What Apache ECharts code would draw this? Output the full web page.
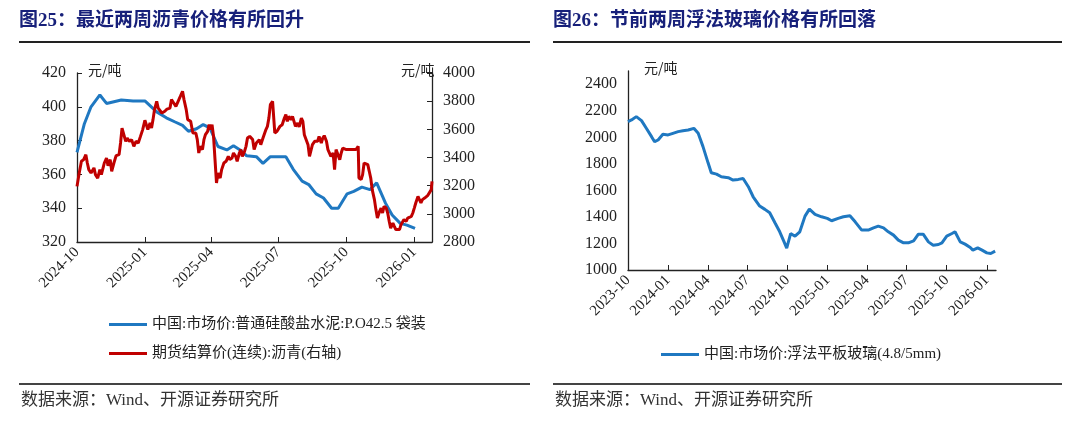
<!DOCTYPE html>
<html>
<head>
<meta charset="utf-8">
<script src="https://cdn.jsdelivr.net/npm/echarts@6/dist/echarts.min.js"></script>
<style>
  html, body { margin: 0; padding: 0; background: #fff; }
  #chart { width: 1080px; height: 427px; }
</style>
</head>
<body>
<div id="chart"></div>
<script>
// ---- data ----
const cementName = '中国:市场价:普通硅酸盐水泥:P.O42.5 袋装'
const asphaltName = '期货结算价(连续):沥青(右轴)'
const glassName = '中国:市场价:浮法平板玻璃(4.8/5mm)'

// left chart, left axis (元/吨)
const cementDates = [
  '2024-10-01', '2024-10-11', '2024-10-20', '2024-11-01', '2024-11-10', '2024-11-30', '2024-12-16',
  '2025-01-01', '2025-01-17', '2025-01-30', '2025-02-11', '2025-02-21', '2025-03-01', '2025-03-12',
  '2025-03-21', '2025-03-30', '2025-04-10', '2025-04-22', '2025-05-01', '2025-05-10', '2025-05-19',
  '2025-06-01', '2025-06-10', '2025-06-20', '2025-07-01', '2025-07-11', '2025-07-21', '2025-08-02',
  '2025-08-11', '2025-08-21', '2025-08-31', '2025-09-11', '2025-09-20', '2025-10-02', '2025-10-11',
  '2025-10-22', '2025-11-02', '2025-11-11', '2025-11-23', '2025-12-02', '2025-12-13', '2025-12-22',
  '2026-01-02'
]
const cementValues = [
  373, 390, 400, 407, 402, 404, 403.5,
  403.5, 397, 393.5, 391, 389, 385.5, 387,
  389.5, 387.5, 376.5, 374.5, 377, 374.5, 371,
  370.5, 366.5, 370.5, 370.5, 370.5, 363, 356,
  354, 348.5, 346, 340, 340, 348.5, 350,
  352.5, 351, 355, 343, 336, 331, 330, 328
]

// left chart, right axis (元/吨)
const asphaltDates = [
  '2024-10-01', '2024-10-04', '2024-10-07', '2024-10-10', '2024-10-13', '2024-10-15', '2024-10-17',
  '2024-10-20', '2024-10-24', '2024-10-26', '2024-10-29', '2024-11-01', '2024-11-03', '2024-11-07',
  '2024-11-10', '2024-11-12', '2024-11-15', '2024-11-17', '2024-11-20', '2024-11-23', '2024-11-27',
  '2024-11-29', '2024-12-01', '2024-12-03', '2024-12-06', '2024-12-08', '2024-12-11', '2024-12-14',
  '2024-12-17', '2024-12-20', '2024-12-23', '2024-12-26', '2024-12-29', '2025-01-01', '2025-01-03',
  '2025-01-05', '2025-01-08', '2025-01-10', '2025-01-12', '2025-01-14', '2025-01-17', '2025-01-19',
  '2025-01-21', '2025-01-24', '2025-01-28', '2025-01-31', '2025-02-04', '2025-02-06', '2025-02-09',
  '2025-02-12', '2025-02-15', '2025-02-18', '2025-02-21', '2025-02-23', '2025-02-26', '2025-02-28',
  '2025-03-02', '2025-03-04', '2025-03-07', '2025-03-09', '2025-03-11', '2025-03-13', '2025-03-15',
  '2025-03-17', '2025-03-20', '2025-03-22', '2025-03-24', '2025-03-27', '2025-03-29', '2025-03-31',
  '2025-04-02', '2025-04-04', '2025-04-06', '2025-04-08', '2025-04-10', '2025-04-13', '2025-04-15',
  '2025-04-18', '2025-04-21', '2025-04-24', '2025-04-26', '2025-04-29', '2025-05-01', '2025-05-04',
  '2025-05-06', '2025-05-09', '2025-05-11', '2025-05-13', '2025-05-16', '2025-05-18', '2025-05-20',
  '2025-05-23', '2025-05-25', '2025-05-27', '2025-05-29', '2025-06-01', '2025-06-03', '2025-06-05',
  '2025-06-07', '2025-06-10', '2025-06-12', '2025-06-14', '2025-06-16', '2025-06-18', '2025-06-20',
  '2025-06-23', '2025-06-24', '2025-06-26', '2025-06-29', '2025-07-01', '2025-07-03', '2025-07-06',
  '2025-07-09', '2025-07-11', '2025-07-13', '2025-07-15', '2025-07-18', '2025-07-20', '2025-07-22',
  '2025-07-24', '2025-07-27', '2025-07-29', '2025-08-01', '2025-08-03', '2025-08-05', '2025-08-07',
  '2025-08-10', '2025-08-12', '2025-08-14', '2025-08-16', '2025-08-19', '2025-08-21', '2025-08-23',
  '2025-08-25', '2025-08-28', '2025-08-30', '2025-09-01', '2025-09-04', '2025-09-06', '2025-09-08',
  '2025-09-10', '2025-09-13', '2025-09-15', '2025-09-17', '2025-09-19', '2025-09-22', '2025-09-24',
  '2025-09-26', '2025-09-28', '2025-10-01', '2025-10-03', '2025-10-05', '2025-10-07', '2025-10-10',
  '2025-10-12', '2025-10-14', '2025-10-17', '2025-10-18', '2025-10-21', '2025-10-23', '2025-10-25',
  '2025-10-27', '2025-10-30', '2025-11-01', '2025-11-03', '2025-11-05', '2025-11-08', '2025-11-10',
  '2025-11-12', '2025-11-15', '2025-11-17', '2025-11-19', '2025-11-21', '2025-11-24', '2025-11-26',
  '2025-11-28', '2025-11-30', '2025-12-03', '2025-12-05', '2025-12-07', '2025-12-09', '2025-12-12',
  '2025-12-14', '2025-12-16', '2025-12-18', '2025-12-21', '2025-12-23', '2025-12-25', '2025-12-28',
  '2025-12-30', '2026-01-01', '2026-01-03', '2026-01-06', '2026-01-08', '2026-01-10', '2026-01-12',
  '2026-01-15', '2026-01-17', '2026-01-19', '2026-01-21', '2026-01-24', '2026-01-25'
]
const asphaltValues = [
  3195, 3290, 3373, 3385, 3420, 3361, 3314,
  3290, 3326, 3278, 3254, 3314, 3278, 3361,
  3396, 3342, 3385, 3302, 3361, 3413, 3420,
  3503, 3609, 3598, 3515, 3538, 3515, 3527,
  3479, 3515, 3503, 3550, 3598, 3664, 3657,
  3598, 3645, 3609, 3669, 3740, 3799, 3751,
  3740, 3716, 3728, 3744, 3751, 3811, 3787,
  3763, 3799, 3834, 3870, 3811, 3740, 3669,
  3680, 3657, 3574, 3562, 3574, 3527, 3432,
  3479, 3456, 3527, 3562, 3586, 3633, 3598,
  3633, 3550, 3385, 3219, 3290, 3254, 3314,
  3361, 3373, 3408, 3385, 3396, 3432, 3408,
  3373, 3432, 3456, 3408, 3444, 3479, 3538,
  3550, 3538, 3527, 3456, 3503, 3515, 3527,
  3491, 3538, 3527, 3598, 3621, 3680, 3775,
  3799, 3787, 3574, 3586, 3574, 3621, 3633,
  3680, 3704, 3657, 3692, 3669, 3692, 3657,
  3621, 3645, 3617, 3680, 3657, 3562, 3550,
  3491, 3408, 3408, 3491, 3515, 3527, 3515,
  3550, 3503, 3538, 3555, 3515, 3456, 3444,
  3408, 3432, 3314, 3456, 3444, 3385, 3432,
  3467, 3467, 3456, 3467, 3456, 3460, 3456,
  3467, 3456, 3479, 3254, 3243, 3278, 3361,
  3373, 3349, 3302, 3254, 3172, 3101, 3030,
  2970, 3018, 3041, 3006, 3053, 3041, 3006,
  2947, 2899, 2935, 2911, 2888, 2899, 2888,
  2923, 2935, 2959, 2947, 2970, 2982, 2982,
  3006, 3041, 3077, 3124, 3112, 3077, 3101,
  3112, 3124, 3129, 3136, 3172, 3231
]

// right chart (元/吨)
const glassDates = [
  '2023-10-01', '2023-10-09', '2023-10-20', '2023-11-01', '2023-11-12', '2023-11-24', '2023-12-01',
  '2023-12-09', '2023-12-20', '2024-01-01', '2024-01-12', '2024-01-24', '2024-02-04', '2024-02-16',
  '2024-02-29', '2024-03-10', '2024-03-21', '2024-04-02', '2024-04-09', '2024-04-21', '2024-05-02',
  '2024-05-18', '2024-05-29', '2024-06-10', '2024-06-21', '2024-07-03', '2024-07-14', '2024-07-29',
  '2024-08-10', '2024-08-21', '2024-09-02', '2024-09-13', '2024-09-23', '2024-09-29', '2024-10-08',
  '2024-10-18', '2024-10-29', '2024-11-10', '2024-11-20', '2024-12-03', '2024-12-18', '2024-12-31',
  '2025-01-10', '2025-01-25', '2025-02-06', '2025-02-21', '2025-03-05', '2025-03-20', '2025-04-04',
  '2025-04-16', '2025-04-27', '2025-05-09', '2025-05-20', '2025-06-01', '2025-06-12', '2025-06-24',
  '2025-07-05', '2025-07-17', '2025-07-28', '2025-08-08', '2025-08-20', '2025-08-31', '2025-09-12',
  '2025-09-20', '2025-10-01', '2025-10-13', '2025-10-20', '2025-11-01', '2025-11-12', '2025-11-24',
  '2025-11-30', '2025-12-11', '2025-12-21', '2026-01-01', '2026-01-10', '2026-01-20'
]
const glassValues = [
  2118, 2131, 2156, 2126, 2068, 2005, 1967,
  1980, 2023, 2018, 2030, 2043, 2050, 2055,
  2068, 2030, 1930, 1804, 1733, 1723, 1703,
  1696, 1678, 1683, 1690, 1628, 1552, 1482,
  1457, 1431, 1356, 1288, 1212, 1165, 1275,
  1255, 1288, 1406, 1459, 1419, 1401, 1389,
  1371, 1389, 1401, 1409, 1363, 1301, 1301,
  1318, 1331, 1318, 1288, 1263, 1225, 1205,
  1205, 1220, 1270, 1270, 1212, 1187, 1192,
  1205, 1255, 1275, 1288, 1212, 1195, 1170,
  1150, 1167, 1150, 1129, 1124, 1142
]

// tick labels
const leftTicks = ['2024-10', '2025-01', '2025-04', '2025-07', '2025-10', '2026-01']
const rightTicks = ['2023-10', '2024-01', '2024-04', '2024-07', '2024-10', '2025-01', '2025-04', '2025-07', '2025-10', '2026-01']

const SERIF = "'Liberation Serif', 'Times New Roman', 'Noto Sans CJK SC', serif"
const BLUE = '#1f78c1'
const RED = '#c00000'
const AXIS = '#222'

// dates -> local timestamps, the x axes are plain value axes over time
function ts(s) {
  const p = s.split('-')
  return new Date(Number(p[0]), Number(p[1]) - 1, Number(p[2] || 1)).getTime()
}
function ym(v) {
  const d = new Date(v)
  const m = d.getMonth() + 1
  return d.getFullYear() + '-' + (m < 10 ? '0' + m : m)
}
function pairs(dates, vals) {
  return dates.map((d, i) => [ts(d), vals[i]])
}

function xAxisOf(gridIndex, min, max, ticks) {
  const vals = ticks.map(t => ts(t))
  return {
    type: 'value',
    gridIndex: gridIndex,
    min: ts(min),
    max: ts(max),
    axisLine: {show: true, onZero: false, lineStyle: {color: AXIS, width: 1.3}},
    axisTick: {show: true, inside: true, length: 5, customValues: vals, lineStyle: {color: AXIS}},
    axisLabel: {
      customValues: vals,
      rotate: 45,
      margin: 8,
      formatter: ym,
      fontFamily: SERIF,
      fontSize: 15,
      color: '#222',
    },
    splitLine: {show: false},
  }
}

function yAxisOf(gridIndex, pos, min, max, interval, tick) {
  return {
    type: 'value',
    gridIndex: gridIndex,
    position: pos,
    min: min,
    max: max,
    interval: interval,
    axisLine: {show: true, lineStyle: {color: AXIS, width: 1.3}},
    axisTick: {show: tick, inside: true, length: 5, lineStyle: {color: AXIS}},
    axisLabel: {
      fontFamily: SERIF,
      fontSize: 16,
      color: '#222',
      margin: 11,
      showMaxLabel: (max - min) % interval === 0,
      formatter: v => String(v),
    },
    splitLine: {show: false},
  }
}

const chart = echarts.init(document.getElementById('chart'))

const option = {
  backgroundColor: '#fff',
  animation: false,
  grid: [
    {left: 77, right: 648, top: 73, bottom: 185},
    {left: 628, right: 84, top: 71, bottom: 157},
  ],
  xAxis: [
    xAxisOf(0, '2024-10-01', '2026-01-25', leftTicks),
    xAxisOf(1, '2023-10-01', '2026-01-22', rightTicks),
  ],
  yAxis: [
    yAxisOf(0, 'left', 320, 420, 20, true),
    yAxisOf(0, 'right', 2800, 4000, 200, true),
    yAxisOf(1, 'left', 1000, 2500, 200, false),
  ],
  legend: [
    {
      data: [cementName, asphaltName],
      orient: 'vertical',
      left: 104,
      top: 312,
      itemWidth: 38,
      itemHeight: 3,
      itemGap: 14,
      icon: 'rect',
      textStyle: {fontFamily: SERIF, fontSize: 15, color: '#222'},
    },
    {
      data: [glassName],
      left: 656,
      top: 342,
      itemWidth: 38,
      itemHeight: 3,
      icon: 'rect',
      textStyle: {fontFamily: SERIF, fontSize: 15, color: '#222'},
    },
  ],
  graphic: [
    // titles
    {type: 'text', left: 19, top: 12, style: {text: '图25：最近两周沥青价格有所回升', fill: '#17207a', font: "bold 19px 'Liberation Serif', 'Noto Sans CJK SC'"}},
    {type: 'text', left: 553, top: 12, style: {text: '图26：节前两周浮法玻璃价格有所回落', fill: '#17207a', font: "bold 19px 'Liberation Serif', 'Noto Sans CJK SC'"}},
    {type: 'rect', shape: {x: 19, y: 41, width: 511, height: 2}, style: {fill: '#222'}},
    {type: 'rect', shape: {x: 553, y: 41, width: 509, height: 2}, style: {fill: '#222'}},
    // units
    {type: 'text', left: 88, top: 63, style: {text: '元/吨', fill: '#222', font: "14px 'Noto Sans CJK SC'"}},
    {type: 'text', left: 401, top: 63, style: {text: '元/吨', fill: '#222', font: "14px 'Noto Sans CJK SC'"}},
    {type: 'text', left: 644, top: 61, style: {text: '元/吨', fill: '#222', font: "14px 'Noto Sans CJK SC'"}},
    // source lines
    {type: 'rect', shape: {x: 19, y: 383, width: 511, height: 2}, style: {fill: '#444'}},
    {type: 'rect', shape: {x: 553, y: 383, width: 509, height: 2}, style: {fill: '#444'}},
    {type: 'text', left: 21, top: 392, style: {text: '数据来源：Wind、开源证券研究所', fill: '#333', font: "17px 'Liberation Serif', 'Noto Sans CJK SC'"}},
    {type: 'text', left: 555, top: 392, style: {text: '数据来源：Wind、开源证券研究所', fill: '#333', font: "17px 'Liberation Serif', 'Noto Sans CJK SC'"}},
  ],
  series: [
    {
      name: cementName,
      type: 'line',
      xAxisIndex: 0,
      yAxisIndex: 0,
      showSymbol: false,
      symbol: 'none',
      z: 3,
      lineStyle: {color: BLUE, width: 3},
      itemStyle: {color: BLUE},
      data: pairs(cementDates, cementValues),
    },
    {
      name: asphaltName,
      type: 'line',
      xAxisIndex: 0,
      yAxisIndex: 1,
      showSymbol: false,
      symbol: 'none',
      z: 4,
      lineStyle: {color: RED, width: 3},
      itemStyle: {color: RED},
      data: pairs(asphaltDates, asphaltValues),
    },
    {
      name: glassName,
      type: 'line',
      xAxisIndex: 1,
      yAxisIndex: 2,
      showSymbol: false,
      symbol: 'none',
      lineStyle: {color: BLUE, width: 3},
      itemStyle: {color: BLUE},
      data: pairs(glassDates, glassValues),
    },
  ],
}

chart.setOption(option)
</script>
</body>
</html>
